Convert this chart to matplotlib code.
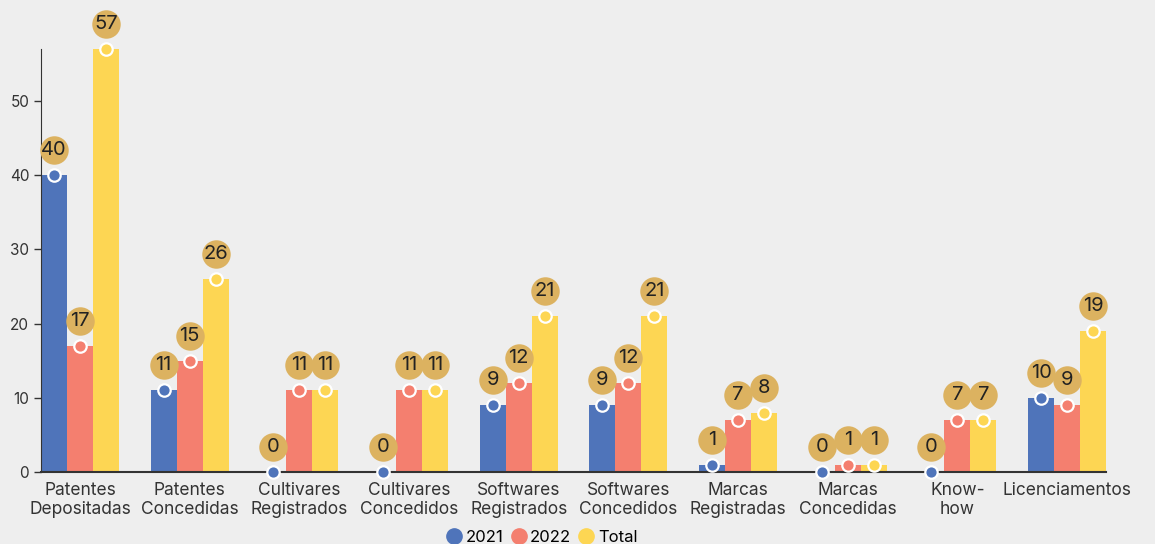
import numpy as np
import matplotlib.pyplot as plt
from matplotlib.lines import Line2D

plt.rcParams['font.family'] = ['Inter', 'DejaVu Sans']

categories = ['Patentes\nDepositadas', 'Patentes\nConcedidas', 'Cultivares\nRegistrados',
              'Cultivares\nConcedidos', 'Softwares\nRegistrados', 'Softwares\nConcedidos',
              'Marcas\nRegistradas', 'Marcas\nConcedidas', 'Know-\nhow', 'Licenciamentos']
v2021 = [40, 11, 0, 0, 9, 9, 1, 0, 0, 10]
v2022 = [17, 15, 11, 11, 12, 12, 7, 1, 7, 9]
total = [57, 26, 11, 11, 21, 21, 8, 1, 7, 19]
series_names = ['2021', '2022', 'Total']
colors = ['#4f74ba', '#f47f6f', '#fdd653']

bg = '#eeeeee'
fig = plt.figure(figsize=(11.55, 5.44), dpi=100, facecolor=bg)
ax = fig.add_axes([41/1155, 72/544, (1106-41)/1155, (495-72)/544], facecolor=bg)

x = np.arange(len(categories))
w = 0.237
for k, (vals, c) in enumerate(zip([v2021, v2022, total], colors)):
    xs = x + (k - 1) * w
    ax.bar(xs, vals, width=w, color=c, zorder=2)
    ax.scatter(xs, vals, s=80, color=c, edgecolor='white', linewidth=1.6, zorder=4, clip_on=False)
    for xi, v in zip(xs, vals):
        # gold bubble above each bar, same size for all
        ax.annotate('', (xi, v), xytext=(0, 18), textcoords='offset points',
                    annotation_clip=False)
        ax.plot([xi], [v], marker='o', markersize=20.5, color='#dcb260', markeredgewidth=0,
                linestyle='none', zorder=5, clip_on=False,
                transform=ax.transData + plt.matplotlib.transforms.ScaledTranslation(0, 18/72, fig.dpi_scale_trans))
        ax.annotate(str(v), (xi, v), xytext=(0, 18), textcoords='offset points',
                    ha='center', va='center', fontsize=14.5, color='#222222', zorder=6,
                    annotation_clip=False)

ax.set_xlim(-0.355, len(categories) - 1 + 0.355)
ax.set_ylim(0, 57)
ax.set_yticks([0, 10, 20, 30, 40, 50])
ax.set_xticks(x)
ax.set_xticklabels(categories, fontsize=12.5, color='#333333', linespacing=1.15)
ax.tick_params(axis='x', length=0, pad=7)
ax.tick_params(axis='y', labelsize=11, colors='#333333', length=5, width=1)
for s in ['top', 'right']:
    ax.spines[s].set_visible(False)
ax.spines['left'].set_color('#333333')
ax.spines['bottom'].set_color('#333333')
ax.spines['bottom'].set_linewidth(1.5)

handles = [Line2D([], [], marker='o', linestyle='none', markersize=11, color=c) for c in colors]
fig.legend(handles, series_names, loc='center', bbox_to_anchor=(540/1155, 7/544), ncol=3,
           frameon=False, fontsize=12, handletextpad=0.0, columnspacing=0.2,
           handlelength=1.4)

fig.savefig('out.png', dpi=100, facecolor=bg)
